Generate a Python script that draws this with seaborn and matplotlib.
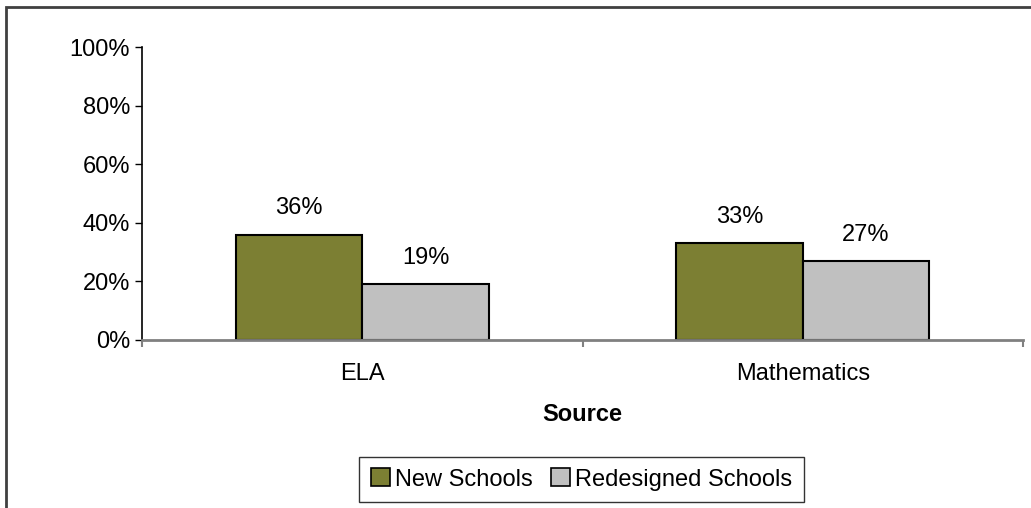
import matplotlib
matplotlib.use("Agg")
import matplotlib.pyplot as plt
from matplotlib.patches import Rectangle, Patch
import seaborn as sns
import pandas as pd

categories = ["ELA", "Mathematics"]
series_names = ["New Schools", "Redesigned Schools"]
new_schools = [36, 33]
redesigned_schools = [19, 27]
y_ticks = [0, 20, 40, 60, 80, 100]
y_tick_labels = ["0%", "20%", "40%", "60%", "80%", "100%"]
colors = ["#7C7F33", "#C0C0C0"]

df = pd.DataFrame({
    "Source": categories * 2,
    "School": [series_names[0]] * 2 + [series_names[1]] * 2,
    "Percent": new_schools + redesigned_schools,
})

sns.set_style("white")
plt.rcParams["font.family"] = ["Liberation Sans", "DejaVu Sans"]
plt.rcParams["text.color"] = "black"
plt.rcParams["axes.labelcolor"] = "black"
plt.rcParams["xtick.color"] = "black"
plt.rcParams["ytick.color"] = "black"

FS = 17

fig = plt.figure(figsize=(10.31, 5.08), dpi=100)
ax = fig.add_axes([142 / 1031, 1 - 340 / 508, (1023 - 142) / 1031, (340 - 47) / 508])

sns.barplot(data=df, x="Source", y="Percent", hue="School", hue_order=series_names,
            palette=colors, width=0.575, edgecolor="black", linewidth=1.5,
            saturation=1, legend=False, ax=ax)

for container in ax.containers:
    ax.bar_label(container, labels=[f"{v:.0f}%" for v in container.datavalues],
                 padding=11, fontsize=FS, color="black")

ax.set_ylim(0, 100)
ax.set_xlim(-0.5, 1.5)
ax.set_yticks(y_ticks)
ax.set_yticklabels(y_tick_labels, fontsize=FS)
ax.tick_params(axis="y", left=True, length=5, width=1, color="black", pad=3.5, labelcolor="black")
ax.set_xticks([0, 1])
ax.set_xticklabels(categories, fontsize=FS)
ax.set_xticks([-0.5, 0.5, 1.5], minor=True)
ax.tick_params(axis="x", which="major", bottom=False, pad=13, labelcolor="black")
ax.tick_params(axis="x", which="minor", bottom=True, length=5, width=1.5, color="#808080")
ax.set_xlabel("Source", fontsize=FS, fontweight="bold", labelpad=13, color="black")
ax.set_ylabel("")

for side in ["top", "right"]:
    ax.spines[side].set_visible(False)
ax.spines["left"].set_color("black")
ax.spines["left"].set_linewidth(1.2)
ax.spines["bottom"].set_color("#808080")
ax.spines["bottom"].set_linewidth(2)
ax.grid(False)

handles = [Patch(facecolor=c, edgecolor="black", linewidth=1.2) for c in colors]
leg = fig.legend(handles, series_names, loc="center", bbox_to_anchor=(581.5 / 1031, 1 - 479.5 / 508),
                 ncol=2, fontsize=FS, frameon=True, fancybox=False, shadow=False,
                 handlelength=0.8, handleheight=0.8, handletextpad=0.2, columnspacing=0.8,
                 borderpad=0.5, borderaxespad=0)
leg.get_frame().set_edgecolor("black")
leg.get_frame().set_linewidth(1)

# outer chart border (extends past the right and bottom edges)
fig.patches.append(Rectangle((6 / 1031, -0.05), 1.1, 1 - 7 / 508 + 0.05,
                             transform=fig.transFigure, fill=False,
                             edgecolor="#404040", linewidth=2))

fig.savefig("out.png", dpi=100)
